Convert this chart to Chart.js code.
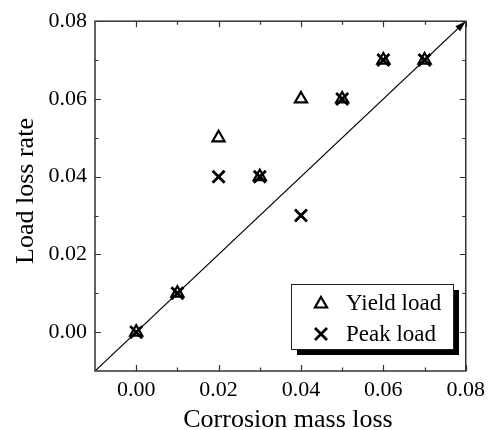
<!DOCTYPE html>
<html>
<head>
<meta charset="utf-8">
<script src="https://cdn.jsdelivr.net/npm/chart.js@4/dist/chart.umd.min.js"></script>
<style>
html,body{margin:0;padding:0;background:#fff;}
#wrap{width:491px;height:430px;position:relative;}
</style>
</head>
<body>
<div id="wrap"><canvas id="c" width="491" height="430"></canvas></div>
<script>
const massLoss = [0.00, 0.01, 0.02, 0.03, 0.04, 0.05, 0.06, 0.07];
const yieldLoad = [0.00, 0.01, 0.05, 0.04, 0.06, 0.06, 0.07, 0.07];
const peakLoad = [0.00, 0.01, 0.04, 0.04, 0.03, 0.06, 0.07, 0.07];
const refLine = [-0.01, 0.08];
const majorTicks = [0.00, 0.02, 0.04, 0.06, 0.08];
const minorTicks = [0.01, 0.03, 0.05, 0.07];
const seriesNames = ['Yield load', 'Peak load'];
const xTitle = 'Corrosion mass loss';
const yTitle = 'Load loss rate';

const SERIF = "'Liberation Serif','Times New Roman',serif";

function pts(xs, ys) { return xs.map((x, i) => ({x: x, y: ys[i]})); }

function drawMarker(ctx, style, x, y) {
  ctx.save();
  ctx.strokeStyle = '#000';
  ctx.lineJoin = 'miter';
  ctx.beginPath();
  if (style === 'triangle') {
    const r = 7;
    ctx.lineWidth = 2.2;
    ctx.moveTo(x, y - r);
    ctx.lineTo(x + r * 0.866, y + r * 0.5);
    ctx.lineTo(x - r * 0.866, y + r * 0.5);
    ctx.closePath();
  } else {
    const h = 6;
    ctx.lineWidth = 2.8;
    ctx.moveTo(x - h, y - h); ctx.lineTo(x + h, y + h);
    ctx.moveTo(x + h, y - h); ctx.lineTo(x - h, y + h);
  }
  ctx.stroke();
  ctx.restore();
}

const decor = {
  id: 'decor',
  afterDatasetsDraw(chart) {
    const {ctx, chartArea: a, scales: {x, y}} = chart;
    ctx.save();
    // arrow head on reference line
    const x1 = x.getPixelForValue(refLine[0]), y1 = y.getPixelForValue(refLine[0]);
    const x2 = x.getPixelForValue(refLine[1]), y2 = y.getPixelForValue(refLine[1]);
    const ang = Math.atan2(y2 - y1, x2 - x1);
    const L = 11, W = 3.5;
    ctx.fillStyle = '#000';
    ctx.beginPath();
    ctx.moveTo(x2, y2);
    ctx.lineTo(x2 - L * Math.cos(ang) + W * Math.sin(ang), y2 - L * Math.sin(ang) - W * Math.cos(ang));
    ctx.lineTo(x2 - L * Math.cos(ang) - W * Math.sin(ang), y2 - L * Math.sin(ang) + W * Math.cos(ang));
    ctx.closePath();
    ctx.fill();

    // frame
    ctx.strokeStyle = '#333';
    ctx.lineWidth = 1.5;
    ctx.strokeRect(a.left, a.top, a.right - a.left, a.bottom - a.top);

    // inward ticks on all four sides
    ctx.lineWidth = 1.2;
    ctx.beginPath();
    const tk = (v, len) => {
      const px = Math.round(x.getPixelForValue(v)) + 0.5;
      ctx.moveTo(px, a.bottom); ctx.lineTo(px, a.bottom - len);
      ctx.moveTo(px, a.top); ctx.lineTo(px, a.top + len);
      const py = Math.round(y.getPixelForValue(v)) + 0.5;
      ctx.moveTo(a.left, py); ctx.lineTo(a.left + len, py);
      ctx.moveTo(a.right, py); ctx.lineTo(a.right - len, py);
    };
    majorTicks.forEach(v => tk(v, 6));
    minorTicks.forEach(v => tk(v, 3.5));
    ctx.stroke();

    // legend with shadow
    const bx = 291, by = 284, bw = 162, bh = 65, sh = 6;
    ctx.fillStyle = '#000';
    ctx.fillRect(bx + sh, by + sh, bw, bh);
    ctx.fillStyle = '#fff';
    ctx.fillRect(bx, by, bw, bh);
    ctx.strokeStyle = '#222';
    ctx.lineWidth = 1;
    ctx.strokeRect(bx + 0.5, by + 0.5, bw, bh);
    const styles = ['triangle', 'cross'];
    const rows = [304, 334];
    const bases = [310, 341];
    ctx.fillStyle = '#000';
    ctx.font = '23px ' + SERIF;
    ctx.textAlign = 'left';
    ctx.textBaseline = 'alphabetic';
    chart.data.datasets.slice(0, 2).forEach((ds, i) => {
      drawMarker(ctx, styles[i], 321, rows[i]);
      ctx.fillText(ds.label, 346, bases[i]);
    });

    // axis titles
    ctx.font = '26px ' + SERIF;
    ctx.textAlign = 'center';
    ctx.textBaseline = 'alphabetic';
    ctx.fillText(xTitle, 288, 427);
    ctx.save();
    ctx.translate(33, 191);
    ctx.rotate(-Math.PI / 2);
    ctx.fillText(yTitle, 0, 0);
    ctx.restore();
    ctx.restore();
  }
};

new Chart(document.getElementById('c'), {
  type: 'scatter',
  data: {
    datasets: [
      {
        label: seriesNames[0],
        data: pts(massLoss, yieldLoad),
        pointStyle: 'triangle',
        pointRadius: 7,
        pointBorderWidth: 2.2,
        borderColor: '#000',
        backgroundColor: 'rgba(0,0,0,0)',
        showLine: false
      },
      {
        label: seriesNames[1],
        data: pts(massLoss, peakLoad),
        pointStyle: 'crossRot',
        pointRadius: 8.5,
        pointBorderWidth: 2.8,
        borderColor: '#000',
        backgroundColor: '#000',
        showLine: false
      },
      {
        label: 'ref',
        data: pts(refLine, refLine),
        showLine: true,
        borderColor: '#000',
        borderWidth: 1.2,
        pointRadius: 0,
        fill: false
      }
    ]
  },
  options: {
    responsive: false,
    animation: false,
    layout: {padding: {top: 19, right: 25, left: 0, bottom: 0}},
    plugins: {legend: {display: false}, tooltip: {enabled: false}},
    scales: {
      x: {
        type: 'linear',
        min: -0.01, max: 0.08,
        afterBuildTicks: s => { s.ticks = majorTicks.map(v => ({value: v})); },
        afterFit: s => { s.height = 59; },
        grid: {display: false, drawTicks: false},
        border: {display: false},
        ticks: {
          color: '#000', padding: 6, maxRotation: 0, autoSkip: false,
          font: {family: SERIF, size: 22},
          callback: v => Number(v).toFixed(2)
        }
      },
      y: {
        type: 'linear',
        min: -0.01, max: 0.08,
        afterBuildTicks: s => { s.ticks = majorTicks.map(v => ({value: v})); },
        afterFit: s => { s.width = 95; },
        grid: {display: false, drawTicks: false},
        border: {display: false},
        ticks: {
          color: '#000', padding: 8, autoSkip: false,
          font: {family: SERIF, size: 22},
          callback: v => Number(v).toFixed(2)
        }
      }
    }
  },
  plugins: [decor]
});
</script>
</body>
</html>
